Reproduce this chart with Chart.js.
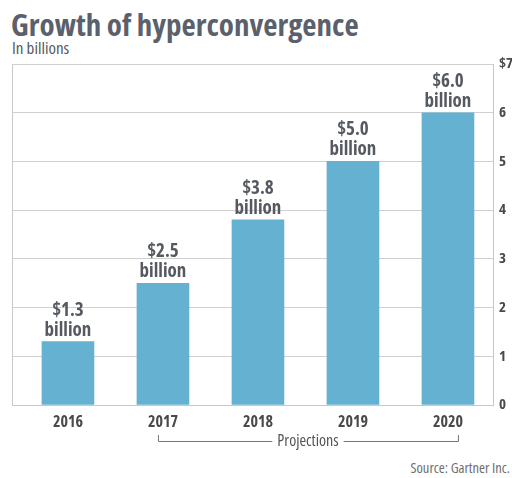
<!DOCTYPE html>
<html>
<head>
<meta charset="utf-8">
<script src="https://cdn.jsdelivr.net/npm/chart.js@4/dist/chart.umd.min.js"></script>
<style>
  html, body { margin: 0; padding: 0; background: #fff; }
  body { width: 512px; height: 478px; position: relative; overflow: hidden;
         font-family: 'Open Sans', sans-serif; font-stretch: condensed; }
  #title { position: absolute; left: 11px; top: 3px; font-size: 31px; font-weight: bold; color: #5a616c; white-space: nowrap; }
  #sub { position: absolute; left: 12px; top: 36px; font-size: 17px; color: #5a5a5a; white-space: nowrap; }
  #src { position: absolute; right: 2px; top: 458px; font-size: 14.5px; color: #6e6e6e; white-space: nowrap; }
  canvas { position: absolute; left: 0; top: 0; }
</style>
</head>
<body>
<div id="title">Growth of hyperconvergence</div>
<div id="sub">In billions</div>
<div id="src">Source: Gartner Inc.</div>
<canvas id="c" width="512" height="478"></canvas>
<script>
const years = ['2016', '2017', '2018', '2019', '2020'];
const values = [1.3, 2.5, 3.8, 5.0, 6.0];
const valueLabels = ['$1.3', '$2.5', '$3.8', '$5.0', '$6.0'];
const yTickLabels = ['0', '1', '2', '3', '4', '5', '6', '$7'];
const projectionLabel = 'Projections';
const projectionFrom = 1, projectionTo = 4;

const FONT = "'Open Sans', sans-serif";

const barLabels = {
  id: 'barLabels',
  afterDatasetsDraw(chart) {
    const ctx = chart.ctx;
    const meta = chart.getDatasetMeta(0);
    ctx.save();
    ctx.fillStyle = '#555a60';
    ctx.textAlign = 'center';
    ctx.textBaseline = 'alphabetic';
    ctx.font = 'bold condensed 19px ' + FONT;
    meta.data.forEach((bar, i) => {
      ctx.fillText('billion', bar.x, bar.y - 6);
      ctx.fillText(valueLabels[i], bar.x, bar.y - 26);
    });
    ctx.restore();
  }
};

const projections = {
  id: 'projections',
  afterDraw(chart) {
    const ctx = chart.ctx;
    const xs = chart.scales.x;
    const x1 = xs.getPixelForValue(projectionFrom) - 5;
    const x2 = xs.getPixelForValue(projectionTo) + 10;
    const y = 441, yTop = 435;
    ctx.save();
    ctx.font = 'condensed 16px ' + FONT;
    const mid = (x1 + x2) / 2;
    const tw = ctx.measureText(projectionLabel).width;
    ctx.strokeStyle = '#777';
    ctx.lineWidth = 1;
    ctx.beginPath();
    ctx.moveTo(x1 + 0.5, yTop); ctx.lineTo(x1 + 0.5, y + 0.5); ctx.lineTo(mid - tw / 2 - 5, y + 0.5);
    ctx.moveTo(mid + tw / 2 + 5, y + 0.5); ctx.lineTo(x2 + 0.5, y + 0.5); ctx.lineTo(x2 + 0.5, yTop);
    ctx.stroke();
    ctx.fillStyle = '#555';
    ctx.textAlign = 'center';
    ctx.textBaseline = 'middle';
    ctx.fillText(projectionLabel, mid, y);
    ctx.restore();
  }
};

new Chart(document.getElementById('c'), {
  type: 'bar',
  data: {
    datasets: [{
      data: years.map((y, i) => ({ x: i, y: values[i] })),
      backgroundColor: '#65b1d2',
      borderWidth: 0,
      barThickness: 52
    }]
  },
  options: {
    responsive: false,
    animation: false,
    layout: { padding: { left: 12, top: 64, right: 0, bottom: 0 } },
    plugins: { legend: { display: false }, tooltip: { enabled: false } },
    scales: {
      x: {
        type: 'linear',
        offset: false,
        min: -0.589,
        max: 4.474,
        grid: { display: false, offset: false },
        border: { display: true, color: '#c8c8c8' },
        afterFit(s) { s.height = 73; },
        ticks: {
          stepSize: 1,
          includeBounds: false,
          autoSkip: false,
          maxRotation: 0,
          padding: 0,
          color: '#4a4a4a',
          font: { family: FONT, size: 16, weight: 'bold condensed' },
          callback: v => (Number.isInteger(v) && v >= 0 && v < years.length) ? years[v] : ''
        }
      },
      y: {
        position: 'right',
        min: 0,
        max: 7,
        afterFit(s) { s.width = 19; },
        grid: { color: '#d0d0d0', drawTicks: false },
        border: { display: true, color: '#c8c8c8' },
        ticks: {
          stepSize: 1,
          padding: 6,
          color: '#4a4a4a',
          font: { family: FONT, size: 15, weight: 'bold condensed' },
          callback: (v) => yTickLabels[v]
        }
      },
      yl: {
        position: 'left',
        min: 0,
        max: 7,
        afterFit(s) { s.width = 0; },
        grid: { display: false },
        border: { display: true, color: '#c8c8c8' },
        ticks: { display: false }
      }
    }
  },
  plugins: [barLabels, projections]
});
</script>
</body>
</html>
